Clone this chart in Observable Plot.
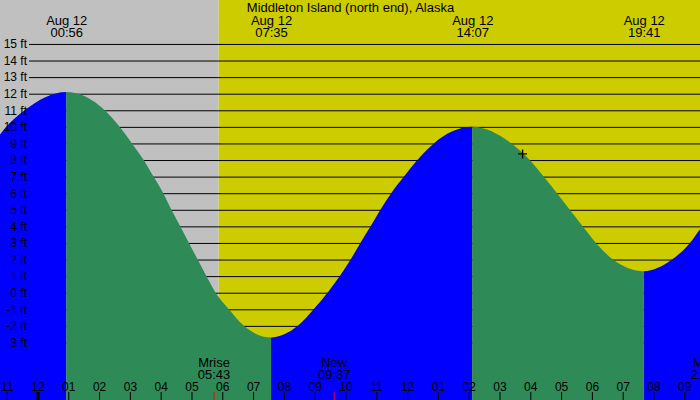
<!DOCTYPE html>
<html>
<head>
<meta charset="utf-8">
<script src="https://cdn.jsdelivr.net/npm/d3@7"></script>
<script src="https://cdn.jsdelivr.net/npm/@observablehq/plot@0.6"></script>
<style>
  html, body { margin: 0; padding: 0; overflow: hidden; background: #ffffff; }
  #chart svg { display: block; overflow: hidden; }
</style>
</head>
<body>
<div id="chart"></div>
<script>
// ---------- data ----------
const title = "Middleton Island (north end), Alaska";

// tide height readings (ft); first and last are off-chart estimates
const tideTimes = [
  "2026-08-11T18:30", "2026-08-11T22:46", "2026-08-11T22:59", "2026-08-11T23:35",
  "2026-08-12T00:56",
  "2026-08-12T02:11", "2026-08-12T02:40", "2026-08-12T03:04", "2026-08-12T03:27",
  "2026-08-12T03:46", "2026-08-12T04:05", "2026-08-12T04:21", "2026-08-12T04:38",
  "2026-08-12T04:55", "2026-08-12T05:12", "2026-08-12T05:29", "2026-08-12T05:47",
  "2026-08-12T06:13", "2026-08-12T06:42",
  "2026-08-12T07:35",
  "2026-08-12T08:27", "2026-08-12T08:58", "2026-08-12T09:25", "2026-08-12T09:49",
  "2026-08-12T10:10", "2026-08-12T10:29", "2026-08-12T10:49", "2026-08-12T11:08",
  "2026-08-12T11:29", "2026-08-12T11:54", "2026-08-12T12:20", "2026-08-12T12:52",
  "2026-08-12T14:07",
  "2026-08-12T15:23", "2026-08-12T15:59", "2026-08-12T16:26", "2026-08-12T16:52",
  "2026-08-12T17:17", "2026-08-12T17:42", "2026-08-12T18:08", "2026-08-12T18:41",
  "2026-08-12T19:41",
  "2026-08-12T20:36", "2026-08-12T21:11", "2026-08-12T21:30", "2026-08-13T01:30"
];
const tideFeet = [
  2.4, 9.5, 10, 11,
  12.1,
  11, 10, 9, 8,
  7, 6, 5, 4,
  3, 2, 1, 0,
  -1, -2,
  -2.7,
  -2, -1, 0, 1,
  2, 3, 4, 5,
  6, 7, 8, 9,
  10.0,
  9, 8, 7, 6,
  5, 4, 3, 2,
  1.3,
  2, 3, 3.8, 12.0
];

// high / low tide events labelled at the top
const extremeTimes = ["2026-08-12T00:56", "2026-08-12T07:35", "2026-08-12T14:07", "2026-08-12T19:41"];
const extremeDay = "Aug 12";

// moon events labelled at the bottom
const moonTimes = ["2026-08-12T05:43", "2026-08-12T09:37", "2026-08-12T21:43"];
const moonNames = ["Mrise", "New", "Mset"];

// sunrise splits night (grey) from day (yellow)
const sunriseTime = "2026-08-12T05:53";

// visible time window
const viewStart = "2026-08-11T22:47";
const viewEnd = "2026-08-12T21:30:36";

// current-time marker
const nowTime = "2026-08-12T15:44";
const nowFeet = 8.4;

// axes
const feetTicks = [-3, -2, -1, 0, 1, 2, 3, 4, 5, 6, 7, 8, 9, 10, 11, 12, 13, 14, 15];
const hourTicks = [
  "2026-08-11T23:00", "2026-08-12T00:00", "2026-08-12T01:00", "2026-08-12T02:00",
  "2026-08-12T03:00", "2026-08-12T04:00", "2026-08-12T05:00", "2026-08-12T06:00",
  "2026-08-12T07:00", "2026-08-12T08:00", "2026-08-12T09:00", "2026-08-12T10:00",
  "2026-08-12T11:00", "2026-08-12T12:00", "2026-08-12T13:00", "2026-08-12T14:00",
  "2026-08-12T15:00", "2026-08-12T16:00", "2026-08-12T17:00", "2026-08-12T18:00",
  "2026-08-12T19:00", "2026-08-12T20:00", "2026-08-12T21:00"
];
const midnightTick = "2026-08-12T00:00";
const yDomain = [-6.47, 17.65];

// colours
const NIGHT = "#c0c0c0";
const DAY = "#cccc00";
const RISING = "#0000ff";
const FALLING = "#2e8b57";

// ---------- build ----------
const T = (s) => new Date(s + "Z");
const hm = d3.utcFormat("%H:%M");
const hh = d3.utcFormat("%I");

// split the readings into rising / falling runs between turning points
const turnIdx = [0, ...extremeTimes.map(s => tideTimes.indexOf(s)), tideTimes.length - 1];
const tideRuns = [];
for (let k = 0; k < turnIdx.length - 1; k++) {
  const a = turnIdx[k], b = turnIdx[k + 1];
  const dir = tideFeet[b] > tideFeet[a] ? "rising" : "falling";
  for (let i = a; i <= b; i++) tideRuns.push({t: T(tideTimes[i]), v: tideFeet[i], run: k, dir});
}
const extremes = extremeTimes.map(s => ({t: T(s)}));
const moon = moonTimes.map((s, i) => ({t: T(s), name: moonNames[i]}));
const bands = [
  {start: T(viewStart), end: T(sunriseTime)},
  {start: T(sunriseTime), end: T(viewEnd)}
];
const hours = hourTicks.map(T);

// monotone cubic curve whose ends are flat (each run starts and ends at a high/low water)
function curveTideRun(context) {
  let line = NaN, px = [], py = [];
  return {
    areaStart() { line = 0; },
    areaEnd() { line = NaN; },
    lineStart() { px = []; py = []; },
    point(x, y) { px.push(+x); py.push(+y); },
    lineEnd() {
      const n = px.length;
      if (n) {
        if (line) context.lineTo(px[0], py[0]); else context.moveTo(px[0], py[0]);
        const m = new Array(n).fill(0);
        for (let i = 1; i < n - 1; i++) {
          const h0 = px[i] - px[i - 1], h1 = px[i + 1] - px[i];
          if (!(h0 > 0) || !(h1 > 0)) continue;
          const s0 = (py[i] - py[i - 1]) / h0, s1 = (py[i + 1] - py[i]) / h1;
          if (s0 * s1 <= 0) continue;
          const p = (s0 * h1 + s1 * h0) / (h0 + h1);
          m[i] = (Math.sign(s0) + Math.sign(s1)) * Math.min(Math.abs(s0), Math.abs(s1), 0.5 * Math.abs(p));
        }
        for (let i = 0; i < n - 1; i++) {
          const d = (px[i + 1] - px[i]) / 3;
          context.bezierCurveTo(px[i] + d, py[i] + d * m[i], px[i + 1] - d, py[i + 1] - d * m[i + 1], px[i + 1], py[i + 1]);
        }
      }
      if (line) context.closePath();
      line = 1 - line;
    }
  };
}

const font = "'Liberation Sans', Arial, Helvetica, sans-serif";

const plusSymbol = {
  draw(context, size) {
    const r = Math.sqrt(size / Math.PI);
    context.moveTo(-r, 0); context.lineTo(r, 0);
    context.moveTo(0, -r); context.lineTo(0, r);
  }
};

const chart = Plot.plot({
  width: 700,
  height: 400,
  margin: 0,
  x: {type: "utc", domain: [T(viewStart), T(viewEnd)], axis: null},
  y: {domain: yDomain, axis: null},
  style: {fontFamily: font, fontSize: "12px", background: "#ffffff", color: "black"},
  marks: [
    Plot.rect([bands[0]], {x1: "start", x2: "end", fill: NIGHT}),
    Plot.rect([bands[1]], {x1: "start", x2: "end", fill: DAY}),
    Plot.ruleY(feetTicks, {y: d => d, insetLeft: 29, stroke: "black", strokeWidth: 1}),
    Plot.areaY(tideRuns.filter(d => d.dir === "rising"), {x: "t", y1: yDomain[0], y2: "v", z: "run", curve: curveTideRun, fill: RISING, clip: true}),
    Plot.areaY(tideRuns.filter(d => d.dir === "falling"), {x: "t", y1: yDomain[0], y2: "v", z: "run", curve: curveTideRun, fill: FALLING, clip: true}),
    Plot.text(feetTicks, {y: d => d, text: d => `${d} ft`, frameAnchor: "left", dx: 26.5, textAnchor: "end", fontSize: 12, fill: "black"}),
    Plot.text([title], {text: d => d, frameAnchor: "top", lineAnchor: "bottom", dy: 11, fontSize: 13, fill: "black"}),
    Plot.text(extremes, {x: "t", text: () => extremeDay, frameAnchor: "top", lineAnchor: "bottom", dy: 24, fontSize: 13, fill: "black"}),
    Plot.text(extremes, {x: "t", text: d => hm(d.t), frameAnchor: "top", lineAnchor: "bottom", dy: 36, fontSize: 13, fill: "black"}),
    Plot.text(moon, {x: "t", text: "name", frameAnchor: "bottom", lineAnchor: "bottom", dy: -34, fontSize: 13, fill: "black"}),
    Plot.text(moon, {x: "t", text: d => hm(d.t), frameAnchor: "bottom", lineAnchor: "bottom", dy: -22, fontSize: 13, fill: "black"}),
    Plot.text(hours, {x: d => d, text: d => hh(d), frameAnchor: "bottom", lineAnchor: "bottom", dy: -10, fontSize: 12, fill: "black"}),
    Plot.ruleX(hours, {x: d => d, insetTop: 392, stroke: "black", strokeWidth: 1}),
    Plot.ruleX([T(midnightTick)], {x: d => d, insetTop: 392, stroke: "black", strokeWidth: 3}),
    Plot.ruleX(moon, {x: "t", insetTop: 392, stroke: "red", strokeWidth: 1}),
    Plot.dot([{t: T(nowTime), v: nowFeet}], {x: "t", y: "v", symbol: plusSymbol, r: 4.5, stroke: "black", strokeWidth: 1.3, fill: "none"})
  ]
});

document.getElementById("chart").appendChild(chart);
</script>
</body>
</html>
